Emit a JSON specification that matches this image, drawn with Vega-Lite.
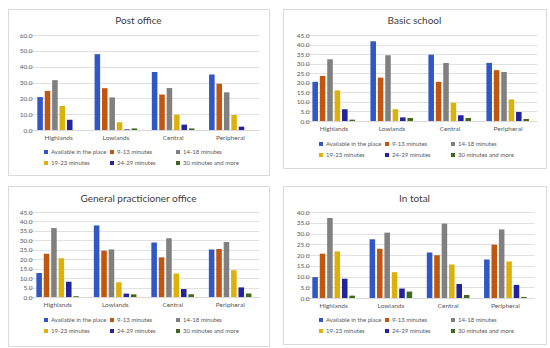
{
  "$schema": "https://vega.github.io/schema/vega-lite/v6.json",
  "padding": {"left": 7, "top": 8, "right": 0, "bottom": 0},
  "background": "white",
  "data": {"values": [
    {"panel": "Post office", "region": "Highlands", "series": "Available in the place", "value": 20.8},
    {"panel": "Post office", "region": "Highlands", "series": "9-13 minutes", "value": 24.7},
    {"panel": "Post office", "region": "Highlands", "series": "14-18 minutes", "value": 31.5},
    {"panel": "Post office", "region": "Highlands", "series": "19-23 minutes", "value": 15.2},
    {"panel": "Post office", "region": "Highlands", "series": "24-29 minutes", "value": 6.5},
    {"panel": "Post office", "region": "Highlands", "series": "30 minutes and more", "value": 0},
    {"panel": "Post office", "region": "Lowlands", "series": "Available in the place", "value": 47.9},
    {"panel": "Post office", "region": "Lowlands", "series": "9-13 minutes", "value": 26.4},
    {"panel": "Post office", "region": "Lowlands", "series": "14-18 minutes", "value": 20.6},
    {"panel": "Post office", "region": "Lowlands", "series": "19-23 minutes", "value": 4.9},
    {"panel": "Post office", "region": "Lowlands", "series": "24-29 minutes", "value": 0.4},
    {"panel": "Post office", "region": "Lowlands", "series": "30 minutes and more", "value": 1.0},
    {"panel": "Post office", "region": "Central", "series": "Available in the place", "value": 36.7},
    {"panel": "Post office", "region": "Central", "series": "9-13 minutes", "value": 22.4},
    {"panel": "Post office", "region": "Central", "series": "14-18 minutes", "value": 26.5},
    {"panel": "Post office", "region": "Central", "series": "19-23 minutes", "value": 9.6},
    {"panel": "Post office", "region": "Central", "series": "24-29 minutes", "value": 3.4},
    {"panel": "Post office", "region": "Central", "series": "30 minutes and more", "value": 1.0},
    {"panel": "Post office", "region": "Peripheral", "series": "Available in the place", "value": 35.0},
    {"panel": "Post office", "region": "Peripheral", "series": "9-13 minutes", "value": 29.2},
    {"panel": "Post office", "region": "Peripheral", "series": "14-18 minutes", "value": 23.8},
    {"panel": "Post office", "region": "Peripheral", "series": "19-23 minutes", "value": 9.4},
    {"panel": "Post office", "region": "Peripheral", "series": "24-29 minutes", "value": 2.1},
    {"panel": "Post office", "region": "Peripheral", "series": "30 minutes and more", "value": 0},

    {"panel": "Basic school", "region": "Highlands", "series": "Available in the place", "value": 20.5},
    {"panel": "Basic school", "region": "Highlands", "series": "9-13 minutes", "value": 23.6},
    {"panel": "Basic school", "region": "Highlands", "series": "14-18 minutes", "value": 32.3},
    {"panel": "Basic school", "region": "Highlands", "series": "19-23 minutes", "value": 16.0},
    {"panel": "Basic school", "region": "Highlands", "series": "24-29 minutes", "value": 6.1},
    {"panel": "Basic school", "region": "Highlands", "series": "30 minutes and more", "value": 0.7},
    {"panel": "Basic school", "region": "Lowlands", "series": "Available in the place", "value": 41.7},
    {"panel": "Basic school", "region": "Lowlands", "series": "9-13 minutes", "value": 22.7},
    {"panel": "Basic school", "region": "Lowlands", "series": "14-18 minutes", "value": 34.4},
    {"panel": "Basic school", "region": "Lowlands", "series": "19-23 minutes", "value": 6.2},
    {"panel": "Basic school", "region": "Lowlands", "series": "24-29 minutes", "value": 1.9},
    {"panel": "Basic school", "region": "Lowlands", "series": "30 minutes and more", "value": 1.6},
    {"panel": "Basic school", "region": "Central", "series": "Available in the place", "value": 34.7},
    {"panel": "Basic school", "region": "Central", "series": "9-13 minutes", "value": 20.5},
    {"panel": "Basic school", "region": "Central", "series": "14-18 minutes", "value": 30.4},
    {"panel": "Basic school", "region": "Central", "series": "19-23 minutes", "value": 9.5},
    {"panel": "Basic school", "region": "Central", "series": "24-29 minutes", "value": 3.0},
    {"panel": "Basic school", "region": "Central", "series": "30 minutes and more", "value": 1.6},
    {"panel": "Basic school", "region": "Peripheral", "series": "Available in the place", "value": 30.4},
    {"panel": "Basic school", "region": "Peripheral", "series": "9-13 minutes", "value": 26.6},
    {"panel": "Basic school", "region": "Peripheral", "series": "14-18 minutes", "value": 25.7},
    {"panel": "Basic school", "region": "Peripheral", "series": "19-23 minutes", "value": 11.3},
    {"panel": "Basic school", "region": "Peripheral", "series": "24-29 minutes", "value": 4.7},
    {"panel": "Basic school", "region": "Peripheral", "series": "30 minutes and more", "value": 1.0},

    {"panel": "General practicioner office", "region": "Highlands", "series": "Available in the place", "value": 12.7},
    {"panel": "General practicioner office", "region": "Highlands", "series": "9-13 minutes", "value": 22.9},
    {"panel": "General practicioner office", "region": "Highlands", "series": "14-18 minutes", "value": 36.5},
    {"panel": "General practicioner office", "region": "Highlands", "series": "19-23 minutes", "value": 20.5},
    {"panel": "General practicioner office", "region": "Highlands", "series": "24-29 minutes", "value": 8.1},
    {"panel": "General practicioner office", "region": "Highlands", "series": "30 minutes and more", "value": 0.4},
    {"panel": "General practicioner office", "region": "Lowlands", "series": "Available in the place", "value": 37.9},
    {"panel": "General practicioner office", "region": "Lowlands", "series": "9-13 minutes", "value": 24.5},
    {"panel": "General practicioner office", "region": "Lowlands", "series": "14-18 minutes", "value": 25.2},
    {"panel": "General practicioner office", "region": "Lowlands", "series": "19-23 minutes", "value": 7.8},
    {"panel": "General practicioner office", "region": "Lowlands", "series": "24-29 minutes", "value": 1.8},
    {"panel": "General practicioner office", "region": "Lowlands", "series": "30 minutes and more", "value": 1.4},
    {"panel": "General practicioner office", "region": "Central", "series": "Available in the place", "value": 28.9},
    {"panel": "General practicioner office", "region": "Central", "series": "9-13 minutes", "value": 21.0},
    {"panel": "General practicioner office", "region": "Central", "series": "14-18 minutes", "value": 31.1},
    {"panel": "General practicioner office", "region": "Central", "series": "19-23 minutes", "value": 12.5},
    {"panel": "General practicioner office", "region": "Central", "series": "24-29 minutes", "value": 4.2},
    {"panel": "General practicioner office", "region": "Central", "series": "30 minutes and more", "value": 1.4},
    {"panel": "General practicioner office", "region": "Peripheral", "series": "Available in the place", "value": 25.1},
    {"panel": "General practicioner office", "region": "Peripheral", "series": "9-13 minutes", "value": 25.4},
    {"panel": "General practicioner office", "region": "Peripheral", "series": "14-18 minutes", "value": 29.1},
    {"panel": "General practicioner office", "region": "Peripheral", "series": "19-23 minutes", "value": 14.1},
    {"panel": "General practicioner office", "region": "Peripheral", "series": "24-29 minutes", "value": 5.1},
    {"panel": "General practicioner office", "region": "Peripheral", "series": "30 minutes and more", "value": 1.8},

    {"panel": "In total", "region": "Highlands", "series": "Available in the place", "value": 9.7},
    {"panel": "In total", "region": "Highlands", "series": "9-13 minutes", "value": 20.6},
    {"panel": "In total", "region": "Highlands", "series": "14-18 minutes", "value": 37.2},
    {"panel": "In total", "region": "Highlands", "series": "19-23 minutes", "value": 21.7},
    {"panel": "In total", "region": "Highlands", "series": "24-29 minutes", "value": 8.9},
    {"panel": "In total", "region": "Highlands", "series": "30 minutes and more", "value": 1.1},
    {"panel": "In total", "region": "Lowlands", "series": "Available in the place", "value": 27.3},
    {"panel": "In total", "region": "Lowlands", "series": "9-13 minutes", "value": 22.9},
    {"panel": "In total", "region": "Lowlands", "series": "14-18 minutes", "value": 30.4},
    {"panel": "In total", "region": "Lowlands", "series": "19-23 minutes", "value": 12.0},
    {"panel": "In total", "region": "Lowlands", "series": "24-29 minutes", "value": 4.4},
    {"panel": "In total", "region": "Lowlands", "series": "30 minutes and more", "value": 3.0},
    {"panel": "In total", "region": "Central", "series": "Available in the place", "value": 21.2},
    {"panel": "In total", "region": "Central", "series": "9-13 minutes", "value": 19.9},
    {"panel": "In total", "region": "Central", "series": "14-18 minutes", "value": 34.6},
    {"panel": "In total", "region": "Central", "series": "19-23 minutes", "value": 15.6},
    {"panel": "In total", "region": "Central", "series": "24-29 minutes", "value": 6.5},
    {"panel": "In total", "region": "Central", "series": "30 minutes and more", "value": 1.4},
    {"panel": "In total", "region": "Peripheral", "series": "Available in the place", "value": 17.9},
    {"panel": "In total", "region": "Peripheral", "series": "9-13 minutes", "value": 24.8},
    {"panel": "In total", "region": "Peripheral", "series": "14-18 minutes", "value": 31.9},
    {"panel": "In total", "region": "Peripheral", "series": "19-23 minutes", "value": 17.0},
    {"panel": "In total", "region": "Peripheral", "series": "24-29 minutes", "value": 6.1},
    {"panel": "In total", "region": "Peripheral", "series": "30 minutes and more", "value": 0.5}
  ]},
  "columns": 2,
  "align": "each",
  "spacing": {"row": 9, "column": 12},
  "resolve": {"scale": {"color": "independent"}},
  "concat": [
    {
      "width": 261, "height": 166,
      "title": {"text": "Post office", "offset": -17},
      "transform": [{"filter": "datum.panel === 'Post office'"}],
      "mark": {"type": "bar"},
      "encoding": {
        "x": {"field": "region", "type": "nominal", "sort": ["Highlands", "Lowlands", "Central", "Peripheral"],
              "scale": {"range": [22, 251], "paddingInner": 0.23, "paddingOuter": 0.115},
              "axis": {"title": null, "offset": -45, "labelAngle": 0, "labelPadding": 4, "grid": false}},
        "xOffset": {"field": "series", "type": "nominal", "sort": ["Available in the place", "9-13 minutes", "14-18 minutes", "19-23 minutes", "24-29 minutes", "30 minutes and more"],
              "scale": {"paddingInner": 0.25, "paddingOuter": 0.1}},
        "y": {"field": "value", "type": "quantitative",
              "scale": {"domain": [0, 60], "range": [121, 26], "nice": false, "zero": true},
              "axis": {"title": null, "offset": -26, "values": [0, 10, 20, 30, 40, 50, 60], "format": ".1f", "domain": false, "ticks": false, "grid": true, "labelPadding": 2}},
        "color": {"field": "series", "type": "nominal",
              "scale": {"domain": ["Available in the place", "9-13 minutes", "14-18 minutes", "19-23 minutes", "24-29 minutes", "30 minutes and more"],
                        "range": ["#3157c4", "#c0560f", "#808080", "#dcb10a", "#23239b", "#3f6a1e"]},
              "legend": {"orient": "none", "legendX": 35, "legendY": 140}}
      }
    },
    {
      "width": 263, "height": 159,
      "title": {"text": "Basic school", "offset": -17},
      "transform": [{"filter": "datum.panel === 'Basic school'"}],
      "mark": {"type": "bar"},
      "encoding": {
        "x": {"field": "region", "type": "nominal", "sort": ["Highlands", "Lowlands", "Central", "Peripheral"],
              "scale": {"range": [22, 254], "paddingInner": 0.23, "paddingOuter": 0.115},
              "axis": {"title": null, "offset": -47, "labelAngle": 0, "labelPadding": 4, "grid": false}},
        "xOffset": {"field": "series", "type": "nominal", "sort": ["Available in the place", "9-13 minutes", "14-18 minutes", "19-23 minutes", "24-29 minutes", "30 minutes and more"],
              "scale": {"paddingInner": 0.25, "paddingOuter": 0.1}},
        "y": {"field": "value", "type": "quantitative",
              "scale": {"domain": [0, 45], "range": [112, 26], "nice": false, "zero": true},
              "axis": {"title": null, "offset": -28, "values": [0, 5, 10, 15, 20, 25, 30, 35, 40, 45], "format": ".1f", "domain": false, "ticks": false, "grid": true, "labelPadding": 2}},
        "color": {"field": "series", "type": "nominal",
              "scale": {"domain": ["Available in the place", "9-13 minutes", "14-18 minutes", "19-23 minutes", "24-29 minutes", "30 minutes and more"],
                        "range": ["#3157c4", "#c0560f", "#808080", "#dcb10a", "#23239b", "#3f6a1e"]},
              "legend": {"orient": "none", "legendX": 35, "legendY": 132}}
      }
    },
    {
      "width": 261, "height": 160,
      "title": {"text": "General practicioner office", "offset": -18},
      "transform": [{"filter": "datum.panel === 'General practicioner office'"}],
      "mark": {"type": "bar"},
      "encoding": {
        "x": {"field": "region", "type": "nominal", "sort": ["Highlands", "Lowlands", "Central", "Peripheral"],
              "scale": {"range": [21, 251], "paddingInner": 0.23, "paddingOuter": 0.115},
              "axis": {"title": null, "offset": -49, "labelAngle": 0, "labelPadding": 4, "grid": false}},
        "xOffset": {"field": "series", "type": "nominal", "sort": ["Available in the place", "9-13 minutes", "14-18 minutes", "19-23 minutes", "24-29 minutes", "30 minutes and more"],
              "scale": {"paddingInner": 0.25, "paddingOuter": 0.1}},
        "y": {"field": "value", "type": "quantitative",
              "scale": {"domain": [0, 45], "range": [111, 26], "nice": false, "zero": true},
              "axis": {"title": null, "offset": -26, "values": [0, 5, 10, 15, 20, 25, 30, 35, 40, 45], "format": ".1f", "domain": false, "ticks": false, "grid": true, "labelPadding": 2}},
        "color": {"field": "series", "type": "nominal",
              "scale": {"domain": ["Available in the place", "9-13 minutes", "14-18 minutes", "19-23 minutes", "24-29 minutes", "30 minutes and more"],
                        "range": ["#3157c4", "#c0560f", "#808080", "#dcb10a", "#23239b", "#3f6a1e"]},
              "legend": {"orient": "none", "legendX": 35, "legendY": 131}}
      }
    },
    {
      "width": 263, "height": 158,
      "title": {"text": "In total", "offset": -18},
      "transform": [{"filter": "datum.panel === 'In total'"}],
      "mark": {"type": "bar"},
      "encoding": {
        "x": {"field": "region", "type": "nominal", "sort": ["Highlands", "Lowlands", "Central", "Peripheral"],
              "scale": {"range": [22, 251], "paddingInner": 0.23, "paddingOuter": 0.115},
              "axis": {"title": null, "offset": -46, "labelAngle": 0, "labelPadding": 4, "grid": false}},
        "xOffset": {"field": "series", "type": "nominal", "sort": ["Available in the place", "9-13 minutes", "14-18 minutes", "19-23 minutes", "24-29 minutes", "30 minutes and more"],
              "scale": {"paddingInner": 0.25, "paddingOuter": 0.1}},
        "y": {"field": "value", "type": "quantitative",
              "scale": {"domain": [0, 40], "range": [112, 26], "nice": false, "zero": true},
              "axis": {"title": null, "offset": -28, "values": [0, 5, 10, 15, 20, 25, 30, 35, 40], "format": ".1f", "domain": false, "ticks": false, "grid": true, "labelPadding": 2}},
        "color": {"field": "series", "type": "nominal",
              "scale": {"domain": ["Available in the place", "9-13 minutes", "14-18 minutes", "19-23 minutes", "24-29 minutes", "30 minutes and more"],
                        "range": ["#3157c4", "#c0560f", "#808080", "#dcb10a", "#23239b", "#3f6a1e"]},
              "legend": {"orient": "none", "legendX": 35, "legendY": 131}}
      }
    }
  ],
  "config": {
    "font": "Lato",
    "view": {"stroke": "#d9d9d9", "strokeWidth": 1, "fill": "white"},
    "axis": {"labelFont": "Lato", "labelFontSize": 6.5, "labelColor": "#595959", "gridColor": "#d9d9d9", "gridWidth": 0.8, "domainColor": "#d9d9d9", "ticks": false},
    "title": {"font": "Lato", "fontSize": 10, "fontWeight": "normal", "color": "#404040", "anchor": "middle", "frame": "group"},
    "legend": {"title": null, "columns": 3, "direction": "horizontal", "symbolType": "square", "symbolSize": 16, "symbolStrokeWidth": 0, "labelFont": "Lato", "labelFontSize": 6, "labelColor": "#595959", "labelOffset": 2, "gridAlign": "all", "columnPadding": 2, "rowPadding": 5, "padding": 0}
  }
}
